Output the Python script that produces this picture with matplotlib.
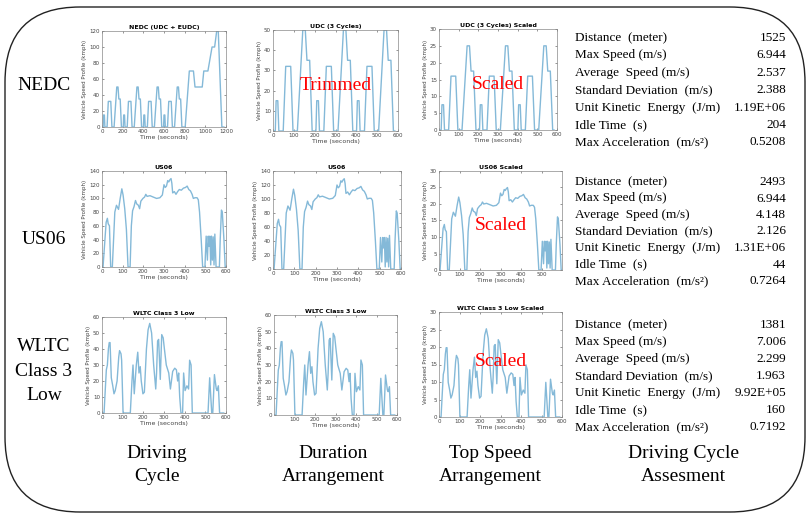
import matplotlib
matplotlib.use("Agg")
import matplotlib.pyplot as plt
from matplotlib.patches import FancyBboxPatch

# ---------------- data ----------------
nedc_t = [0, 11, 15, 23, 28, 49, 61, 85, 96, 117, 143, 155, 163, 176, 188,
          206, 210, 218, 223, 244, 256, 280, 291, 312, 338, 350, 358, 371, 383,
          401, 405, 413, 418, 439, 451, 475, 486, 507, 533, 545, 553, 566, 578,
          596, 600, 608, 613, 634, 646, 670, 681, 702, 728, 740, 748, 761, 773,
          805, 845, 885, 900, 970, 985, 1025, 1065, 1090, 1110, 1125, 1160, 1180]
nedc_v = [0, 0, 15, 15, 0, 0, 32, 32, 0, 0, 50, 50, 35, 35, 0,
          0, 15, 15, 0, 0, 32, 32, 0, 0, 50, 50, 35, 35, 0,
          0, 15, 15, 0, 0, 32, 32, 0, 0, 50, 50, 35, 35, 0,
          0, 15, 15, 0, 0, 32, 32, 0, 0, 50, 50, 35, 35, 0,
          0, 70, 70, 50, 50, 70, 70, 100, 100, 120, 120, 0, 0]

udc3_t = [0, 11, 15, 23, 28, 49, 61, 85, 96, 117, 143, 155, 163, 176, 188,
          206, 210, 218, 223, 244, 256, 280, 291, 312, 338, 350, 358, 371, 383,
          401, 405, 413, 418, 439, 451, 475, 486, 507, 533, 545, 553, 566, 578, 585]
udc3_v = [0, 0, 15, 15, 0, 0, 32, 32, 0, 0, 50, 50, 35, 35, 0,
          0, 15, 15, 0, 0, 32, 32, 0, 0, 50, 50, 35, 35, 0,
          0, 15, 15, 0, 0, 32, 32, 0, 0, 50, 50, 35, 35, 0, 0]
udc3s_v = [0, 0, 7.5, 7.5, 0, 0, 16, 16, 0, 0, 25, 25, 17.5, 17.5, 0,
           0, 7.5, 7.5, 0, 0, 16, 16, 0, 0, 25, 25, 17.5, 17.5, 0,
           0, 7.5, 7.5, 0, 0, 16, 16, 0, 0, 25, 25, 17.5, 17.5, 0, 0]

us06_t = [0, 5, 20, 26, 30, 36, 42, 50, 62, 70,
          80, 88, 96, 102, 110, 118, 126, 136, 142, 148,
          155, 162, 168, 176, 182, 188, 198, 206, 212, 218,
          232, 248, 264, 280, 292, 300, 306, 312, 318, 323,
          328, 334, 338, 342, 350, 358, 366, 374, 384, 394,
          404, 412, 420, 428, 436, 442, 450, 460, 466, 472,
          480, 487, 498, 504, 510, 514, 518, 522, 526, 530,
          534, 538, 542, 546, 552, 568, 572, 578, 582, 590,
          596, 600]
us06_v = [0, 0, 65, 71, 63, 60, 0, 0, 80, 90,
          84, 100, 114, 105, 85, 55, 0, 0, 60, 82,
          88, 97, 92, 90, 85, 96, 100, 102, 106, 103,
          104, 102, 100, 101, 105, 120, 116, 118, 126, 124,
          127, 129, 122, 108, 110, 106, 110, 113, 112, 115,
          116, 118, 113, 111, 106, 100, 101, 101, 98, 80,
          40, 0, 0, 45, 10, 45, 30, 45, 3, 45,
          10, 44, 3, 48, 0, 0, 40, 83, 80, 40,
          0, 0]
us06s_v = [0, 0, 12.6, 13.8, 12.2, 11.6, 0, 0, 15.5, 17.5,
           16.3, 19.4, 22.1, 20.4, 16.5, 10.7, 0, 0, 11.6, 15.9,
           17.1, 18.8, 17.8, 17.5, 16.5, 18.6, 19.4, 19.8, 20.6, 20.0,
           20.2, 19.8, 19.4, 19.6, 20.4, 23.3, 22.5, 22.9, 24.4, 24.1,
           24.6, 25.0, 23.7, 21.0, 21.3, 20.6, 21.3, 21.9, 21.7, 22.3,
           22.5, 22.9, 21.9, 21.5, 20.6, 19.4, 19.6, 19.6, 19.0, 15.5,
           7.8, 0, 0, 8.7, 1.9, 8.7, 5.8, 8.7, 0.6, 8.7,
           1.9, 8.5, 0.6, 9.3, 0, 0, 7.8, 16.1, 15.5, 7.8,
           0, 0]

wltc_t = [0, 10, 16, 21, 26, 31, 35, 39, 45, 52,
          58, 64, 73, 81, 85, 92, 95, 102, 137, 145,
          150, 156, 166, 173, 179, 185, 190, 198, 205, 215,
          223, 231, 240, 250, 260, 264, 269, 274, 282, 289,
          296, 302, 311, 323, 331, 342, 352, 360, 366, 371,
          376, 382, 390, 395, 402, 411, 419, 424, 431, 437,
          444, 513, 521, 531, 536, 544, 553, 557, 563, 569,
          589]
wltc_v = [0, 0, 15, 27, 30, 40, 44, 44, 22, 17,
          12, 14, 20, 35, 39, 37, 33, 0, 0, 20,
          30, 12, 30, 38, 25, 29, 20, 12, 13, 40,
          52, 56, 50, 30, 15, 25, 45, 46, 21, 49,
          47, 40, 30, 25, 15, 26, 28, 27, 20, 25,
          10, 0, 0, 25, 14, 17, 15, 33, 30, 0,
          0, 0, 22, 0, 0, 24, 15, 14, 17, 0,
          0]
wltcs_v = [0, 0, 6.8, 12.2, 13.5, 18.0, 19.8, 19.8, 9.9, 7.7,
           5.4, 6.3, 9.0, 15.8, 17.6, 16.7, 14.9, 0, 0, 9.0,
           13.5, 5.4, 13.5, 17.1, 11.3, 13.1, 9.0, 5.4, 5.9, 18.0,
           23.4, 25.2, 22.5, 13.5, 6.8, 11.3, 20.3, 20.7, 9.5, 22.1,
           21.2, 18.0, 13.5, 11.3, 6.8, 11.7, 12.6, 12.2, 9.0, 11.3,
           4.5, 0, 0, 11.3, 6.3, 7.7, 6.8, 14.9, 13.5, 0,
           0, 0, 9.9, 0, 0, 10.8, 6.8, 6.3, 7.7, 0,
           0]

row_labels = ["NEDC", "US06", "WLTC\nClass 3\nLow"]
col_labels = ["Driving\nCycle", "Duration\nArrangement", "Top Speed\nArrangement",
              "Driving Cycle\nAssesment"]
titles = [["NEDC (UDC + EUDC)", "UDC (3 Cycles)", "UDC (3 Cycles) Scaled"],
          ["US06", "US06", "US06 Scaled"],
          ["WLTC Class 3 Low", "WLTC Class 3 Low", "WLTC Class 3 Low Scaled"]]
overlay_labels = [["", "Trimmed", "Scaled"], ["", "", "Scaled"], ["", "", "Scaled"]]

metric_names = ["Distance  (meter)", "Max Speed (m/s)", "Average  Speed (m/s)",
                "Standard Deviation  (m/s)", "Unit Kinetic  Energy  (J/m)",
                "Idle Time  (s)", "Max Acceleration  (m/s\u00b2)"]
nedc_metrics = ["1525", "6.944", "2.537", "2.388", "1.19E+06", "204", "0.5208"]
us06_metrics = ["2493", "6.944", "4.148", "2.126", "1.31E+06", "44", "0.7264"]
wltc_metrics = ["1381", "7.006", "2.299", "1.963", "9.92E+05", "160", "0.7192"]

# ---------------- figure ----------------
W, H = 808, 517
fig = plt.figure(figsize=(W / 100, H / 100), dpi=100)
fig.patch.set_facecolor("white")

bg = fig.add_axes([0, 0, 1, 1])
bg.set_xlim(0, W)
bg.set_ylim(H, 0)
bg.axis("off")
bg.add_patch(FancyBboxPatch((5, 7), 800, 505,
                            boxstyle="round,pad=0,rounding_size=75",
                            fc="none", ec="#222222", lw=1.0))

serif = ["Liberation Serif", "DejaVu Serif"]
LINE = "#84b9d8"


def add_ax(box):
    l, t, r, b = box
    return fig.add_axes([l / W, 1 - b / H, (r - l) / W, (b - t) / H])


def style(ax, title, xlim, xticks, ylim, yticks):
    ax.set_xlim(*xlim)
    ax.set_ylim(*ylim)
    ax.set_xticks(xticks)
    ax.set_yticks(yticks)
    ax.tick_params(direction="in", length=1.5, width=0.4, labelsize=4,
                   colors="#444444", pad=1.5, top=True, right=True)
    for s in ax.spines.values():
        s.set_color("#888888")
        s.set_linewidth(0.5)
    ax.set_title(title, fontsize=4.5, fontweight="bold", pad=1.5)
    ax.set_xlabel("Time (seconds)", fontsize=4.5, color="#444444", labelpad=1)
    ax.set_ylabel("Vehicle Speed Profile (kmph)", fontsize=4, color="#444444",
                  labelpad=1.5)


boxes = [[(102, 31, 226, 127), (273, 30, 398, 131), (439, 29, 557, 130)],
         [(102, 171, 226, 267), (273, 171, 401, 269), (439, 171, 562, 270)],
         [(102, 317, 226, 413), (274, 315, 397, 415), (439, 312, 562, 417)]]

series = [[(nedc_t, nedc_v), (udc3_t, udc3_v), (udc3_t, udc3s_v)],
          [(us06_t, us06_v), (us06_t, us06_v), (us06_t, us06s_v)],
          [(wltc_t, wltc_v), (wltc_t, wltc_v), (wltc_t, wltcs_v)]]

xlims = [[(0, 1200), (0, 600), (0, 600)],
         [(0, 600), (0, 600), (0, 600)],
         [(0, 600), (0, 600), (0, 600)]]
xtks = [[range(0, 1201, 200), range(0, 601, 100), range(0, 601, 100)],
        [range(0, 601, 100), range(0, 601, 100), range(0, 501, 100)],
        [range(0, 601, 100), range(100, 601, 100), range(0, 601, 100)]]
ylims = [[(0, 120), (0, 50), (0, 30)],
         [(0, 140), (0, 140), (0, 30)],
         [(0, 60), (0, 60), (0, 30)]]
ytks = [[range(0, 121, 20), range(0, 51, 10), range(0, 31, 5)],
        [range(0, 141, 20), range(0, 141, 20), range(0, 31, 5)],
        [range(0, 61, 10), range(0, 61, 10), range(0, 31, 5)]]
overlay_y = [0.45, 0.45, 0.53]

for i in range(3):
    for j in range(3):
        ax = add_ax(boxes[i][j])
        t, v = series[i][j]
        ax.plot(t, v, color=LINE, lw=1.0)
        style(ax, titles[i][j], xlims[i][j], list(xtks[i][j]),
              ylims[i][j], list(ytks[i][j]))
        if overlay_labels[i][j]:
            ax.text(0.5, overlay_y[i], overlay_labels[i][j], transform=ax.transAxes,
                    ha="center", va="center", color="red", fontsize=14,
                    family=serif)

# row labels
row_y = [85, 240, 371]
for lab, y in zip(row_labels, row_y):
    bg.text(44, y, lab, ha="center", va="center", fontsize=14, family=serif,
            linespacing=1.6)

# column labels
col_x = [157, 333, 490, 683]
for lab, x in zip(col_labels, col_x):
    bg.text(x, 465, lab, ha="center", va="center", fontsize=14, family=serif,
            linespacing=1.45)

# metric tables
table_tops = [38, 182, 325]
spacings = [17.4, 16.5, 17.0]
for top, sp, vals in zip(table_tops, spacings,
                         [nedc_metrics, us06_metrics, wltc_metrics]):
    for k, (name, val) in enumerate(zip(metric_names, vals)):
        y = top + k * sp
        bg.text(575, y, name, ha="left", va="center", fontsize=9.5, family=serif)
        bg.text(786, y, val, ha="right", va="center", fontsize=9.5, family=serif)

fig.savefig("out.png", dpi=100)
